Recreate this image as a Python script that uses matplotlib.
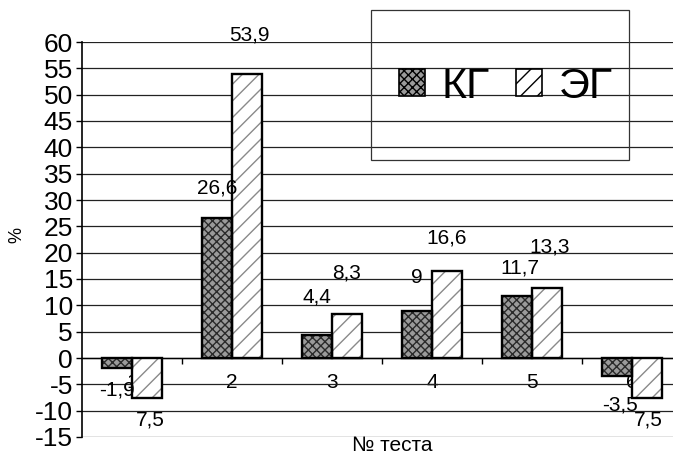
import matplotlib.pyplot as plt
from matplotlib.patches import Rectangle, Patch
import numpy as np

plt.rcParams['font.family'] = ['Liberation Sans', 'DejaVu Sans']
plt.rcParams['axes.unicode_minus'] = False
plt.rcParams['hatch.linewidth'] = 1.0

# data
tests = ['1', '2', '3', '4', '5', '6']
kg = [-1.9, 26.6, 4.4, 9, 11.7, -3.5]
eg = [-7.5, 53.9, 8.3, 16.6, 13.3, -7.5]
kg_text = ['-1,9', '26,6', '4,4', '9', '11,7', '-3,5']
eg_text = ['7,5', '53,9', '8,3', '16,6', '13,3', '7,5']

# label offsets (pixels) from the bar end, as placed in the original
kg_off = [(0, -22), (0, 30), (0, 38), (0, 33), (3, 28), (3, -29)]
eg_off = [(3, -22), (2, 39), (0, 41), (0, 33), (3, 41), (1, -22)]

W, H = 673, 454
fig = plt.figure(figsize=(W / 100, H / 100), dpi=100)
ax = fig.add_axes([82 / W, 17 / H, 600 / W, 395 / H])

x = np.arange(1, len(tests) + 1)
bw = 0.3
# hatch layer
ax.bar(x - bw / 2, kg, width=bw, facecolor='#9a9a9a', edgecolor='#2a2a2a',
       linewidth=0, hatch='xxxx', zorder=3)
ax.bar(x + bw / 2, eg, width=bw, facecolor='white', edgecolor='#8a8a8a',
       linewidth=0, hatch='//', zorder=3)
# outlines
kg_bars = ax.bar(x - bw / 2, kg, width=bw, fill=False, edgecolor='black',
                 linewidth=1.7, zorder=4)
eg_bars = ax.bar(x + bw / 2, eg, width=bw, fill=False, edgecolor='black',
                 linewidth=1.7, zorder=4)

ax.set_xlim(0.5, 6.5)
ax.set_ylim(-15, 60)
ax.set_yticks(range(-15, 61, 5))
ax.tick_params(axis='y', labelsize=19, length=4, width=1, direction='out', pad=2.5)
ax.yaxis.grid(True, color='#222222', linewidth=0.9, zorder=0)

ax.spines['top'].set_visible(False)
ax.spines['right'].set_visible(False)
ax.spines['bottom'].set_position(('data', 0))
ax.spines['bottom'].set_linewidth(1)
ax.spines['left'].set_linewidth(1.2)

ax.set_xticks(np.arange(1.5, 6.5, 1))
ax.set_xticklabels([])
ax.set_xticks(x, minor=True)
ax.set_xticklabels(tests, minor=True)
ax.tick_params(axis='x', which='major', length=4, width=1, direction='out')
ax.tick_params(axis='x', which='minor', length=0, labelsize=15, pad=11)

def put_labels(bars, texts, offs):
    for bar, t, (dx, dy) in zip(bars, texts, offs):
        h = bar.get_height()
        ax.annotate(t, xy=(bar.get_x() + bar.get_width() / 2, h),
                    xytext=(dx * 0.72, dy * 0.72), textcoords='offset points',
                    ha='center', va='center', fontsize=15, zorder=5)

put_labels(kg_bars, kg_text, kg_off)
put_labels(eg_bars, eg_text, eg_off)

fig.text(17 / W, 1 - 235 / H, '%', rotation=90, ha='center', va='center', fontsize=13)
fig.text(392 / W, 1 - 436 / H, '№ теста', ha='center', va='top', fontsize=15)

# legend box
fig.patches.append(Rectangle((371 / W, 1 - 160 / H), 258 / W, 150 / H,
                             transform=fig.transFigure, fill=False,
                             edgecolor='#333333', linewidth=0.9))
handles = [Patch(facecolor='#9a9a9a', edgecolor='black', hatch='xxxx', linewidth=1.2),
           Patch(facecolor='white', edgecolor='black', hatch='//', linewidth=1.2)]
fig.legend(handles, ['КГ', 'ЭГ'], loc='center', bbox_to_anchor=(506 / W, 1 - 87 / H),
           ncol=2, frameon=False, fontsize=31, handlelength=0.6, handleheight=0.6,
           handletextpad=0.4, columnspacing=0.6, borderpad=0)

fig.savefig('out.png', dpi=100)
